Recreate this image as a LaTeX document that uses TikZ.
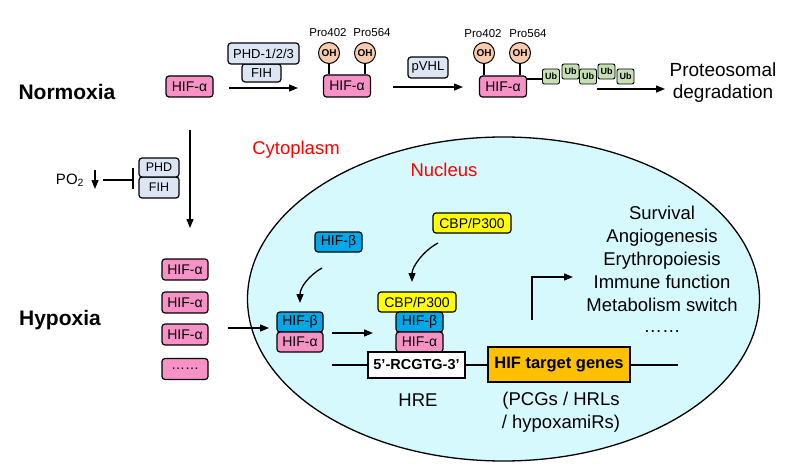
\documentclass[tikz,border=0pt]{standalone}
\usepackage{fontspec}
\setmainfont{Liberation Sans}
\usetikzlibrary{arrows.meta,shapes.geometric}
\definecolor{hifpink}{HTML}{F792C6}
\definecolor{hifblue}{HTML}{00A8E8}
\definecolor{cbpyellow}{HTML}{FFFF00}
\definecolor{tgorange}{HTML}{FFC000}
\definecolor{enzblue}{HTML}{DCE5F3}
\definecolor{ohpeach}{HTML}{F8CBAD}
\definecolor{ubgreen}{HTML}{C5E0B4}
\definecolor{nucfill}{HTML}{D6F9FD}
\definecolor{labred}{HTML}{FF0000}
\tikzset{
  box/.style={draw, line width=1.2pt, rounded corners=3pt, inner sep=0pt, font=\fontsize{14}{16}\selectfont},
  pinkbox/.style={box, fill=hifpink, minimum width=47pt, minimum height=21pt},
  bluebox/.style={box, fill=hifblue, minimum width=47pt, minimum height=20pt},
  yelbox/.style={box, fill=cbpyellow, minimum width=78pt, minimum height=20pt},
  enzbox/.style={box, fill=enzblue, font=\fontsize{13}{15}\selectfont},
  ohc/.style={circle, draw, line width=1pt, fill=ohpeach, minimum size=21pt, inner sep=0pt, font=\bfseries\fontsize{10}{10}\selectfont},
  ubbox/.style={draw, line width=0.9pt, rounded corners=2pt, fill=ubgreen, minimum width=17pt, minimum height=15pt, inner sep=0pt, font=\bfseries\fontsize{9}{9}\selectfont},
  prolab/.style={font=\fontsize{11.5}{12}\selectfont, inner sep=0pt},
  arr/.style={-{Triangle[length=9pt,width=7pt]}, line width=1.3pt},
  ln/.style={line width=1.3pt},
  bigtxt/.style={font=\fontsize{18.5}{23}\selectfont, align=center, inner sep=0pt},
}
\begin{document}
\begin{tikzpicture}[x=1pt,y=-1pt]
\useasboundingbox (0,0) rectangle (791,473);
% nucleus
\node[draw, ellipse, line width=1.3pt, fill=nucfill, minimum width=512pt, minimum height=324pt, inner sep=0pt] (nuc) at (503.5,299) {};
\node[font=\fontsize{18.5}{22}\selectfont, text=labred] (cyto) at (296,150) {Cytoplasm};
\node[font=\fontsize{18.5}{22}\selectfont, text=labred] (nucl) at (444,170) {Nucleus};

% Normoxia row
\node[font=\bfseries\fontsize{21}{24}\selectfont] (normox) at (67,92) {Normoxia};
\node[pinkbox] (n1) at (189.5,86.5) {HIF-α};
\coordinate (a1s) at (229,88); \coordinate (a1e) at (298,88);
\draw[arr] (a1s) -- (a1e);
\node[enzbox, minimum width=39pt, minimum height=18pt] (fih1) at (261.5,73) {FIH};
\node[enzbox, minimum width=71pt, minimum height=21pt] (phd1) at (263.5,53.5) {PHD-1/2/3};

\node[pinkbox, minimum height=22pt] (n2) at (347,86) {HIF-α};
\node[ohc] (oh1) at (329,53) {OH};
\node[ohc] (oh2) at (365,53) {OH};
\draw[line width=1.1pt] (oh1.south) -- (oh1.south |- n2.north);
\draw[line width=1.1pt] (oh2.south) -- (oh2.south |- n2.north);
\node[prolab] (p1a) at (328,33) {Pro402};
\node[prolab] (p1b) at (372,33) {Pro564};

\coordinate (a2s) at (393,87); \coordinate (a2e) at (463,87);
\draw[arr] (a2s) -- (a2e);
\node[enzbox, minimum width=40pt, minimum height=21pt] (pvhl) at (428,67.5) {pVHL};

\node[pinkbox] (n3) at (503,86.5) {HIF-α};
\node[ohc] (oh3) at (484,53) {OH};
\node[ohc] (oh4) at (520,53) {OH};
\draw[line width=1.1pt] (oh3.south) -- (oh3.south |- n3.north);
\draw[line width=1.1pt] (oh4.south) -- (oh4.south |- n3.north);
\node[prolab] (p2a) at (483,34) {Pro402};
\node[prolab] (p2b) at (528,34) {Pro564};

\node[ubbox] (ub1) at (551,76.5) {Ub};
\node[ubbox] (ub2) at (570.5,71.5) {Ub};
\node[ubbox] (ub3) at (588,76.5) {Ub};
\node[ubbox] (ub4) at (606.5,71.5) {Ub};
\node[ubbox] (ub5) at (625.5,76.5) {Ub};
\draw[line width=1.1pt] (n3.east |- 0,79) -- (ub1.west |- 0,79);
\coordinate (a3s) at (597,89); \coordinate (a3e) at (665,89);
\draw[arr] (a3s) -- (a3e);
\node[font=\fontsize{19}{22}\selectfont, align=center, inner sep=0pt] (deg) at (723,83) {Proteosomal\\degradation};

% transition
\coordinate (vs) at (190,130); \coordinate (ve) at (190,228);
\draw[arr] (vs) -- (ve);
\node[enzbox, font=\fontsize{12.5}{14}\selectfont, minimum width=40pt, minimum height=21pt] (fih2) at (159,187.5) {FIH};
\node[enzbox, font=\fontsize{12.5}{14}\selectfont, minimum width=40pt, minimum height=19pt] (phd2) at (159,167.5) {PHD};
\coordinate (tbs) at (103,180); \coordinate (tbe) at (133,180);
\draw[ln] (tbs) -- (tbe);
\draw[ln] (133,168) -- (133,189);
\node[font=\fontsize{15}{17}\selectfont, inner sep=0pt] (po2) at (70,180) {PO\textsubscript{2}};
\coordinate (ds) at (95,170); \coordinate (de) at (95,189);
\draw[arr] (ds) -- (de);

% Hypoxia
\node[font=\bfseries\fontsize{21}{24}\selectfont] (hypox) at (60,320) {Hypoxia};
\node[pinkbox, minimum width=46pt] (h1) at (185,269.5) {HIF-α};
\node[pinkbox, minimum width=46pt] (h2) at (185,302.5) {HIF-α};
\node[pinkbox, minimum width=46pt] (h3) at (185,334.5) {HIF-α};
\node[pinkbox, minimum width=46pt] (h4) at (185,369) {……};
\coordinate (a4s) at (228,328); \coordinate (a4e) at (269,328);
\draw[arr] (a4s) -- (a4e);

\node[bluebox] (hb0) at (338.5,242) {HIF-β};
\node[bluebox, minimum width=46pt] (hb1) at (300,322) {HIF-β};
\node[pinkbox, minimum width=46pt, minimum height=20pt] (ha1) at (300,342) {HIF-α};
\coordinate (c1s) at (322,268); \coordinate (c1e) at (300,303);
\draw[arr] (c1s) .. controls (308,276) and (300,288) .. (c1e);

\coordinate (a5s) at (332,333); \coordinate (a5e) at (373,333);
\draw[arr] (a5s) -- (a5e);

\node[yelbox] (cbp0) at (472,223) {CBP/P300};
\node[yelbox] (cbp1) at (417,302) {CBP/P300};
\node[bluebox] (hb2) at (419.5,322) {HIF-β};
\node[pinkbox, minimum height=20pt] (ha2) at (419.5,342) {HIF-α};
\coordinate (c2s) at (438,243); \coordinate (c2e) at (412,282);
\draw[arr] (c2s) .. controls (423,251) and (412,267) .. (c2e);

\node[draw, line width=1.2pt, fill=white, minimum width=97pt, minimum height=26pt, inner sep=0pt, font=\bfseries\fontsize{14.5}{16}\selectfont] (hre) at (416.5,365) {5’-RCGTG-3’};
\node[draw, line width=1.2pt, fill=tgorange, minimum width=142pt, minimum height=35pt, inner sep=0pt, font=\bfseries\fontsize{16.5}{18}\selectfont] (tg) at (559,364.5) {HIF target genes};
\coordinate (dnaL) at (332,365); \coordinate (dnaR) at (678,365);
\draw[ln] (dnaL) -- (hre.west |- dnaL);
\draw[ln] (hre.east |- dnaL) -- (tg.west |- dnaL);
\draw[ln] (tg.east |- dnaR) -- (dnaR);

\node[bigtxt] (hrelab) at (418,400) {HRE};
\node[bigtxt] (tglab) at (561,412.5) {(PCGs / HRLs\\/ hypoxamiRs)};

\coordinate (b1) at (532,320); \coordinate (b2) at (532,277); \coordinate (b3) at (573,277);
\draw[arr] (b1) -- (b2) -- (b3);
\node[bigtxt, anchor=north] (effects) at (662,206) {Survival\\Angiogenesis\\Erythropoiesis\\Immune function\\Metabolism switch};
\node[bigtxt] (edots) at (662,332) {……};
\end{tikzpicture}
\end{document}
